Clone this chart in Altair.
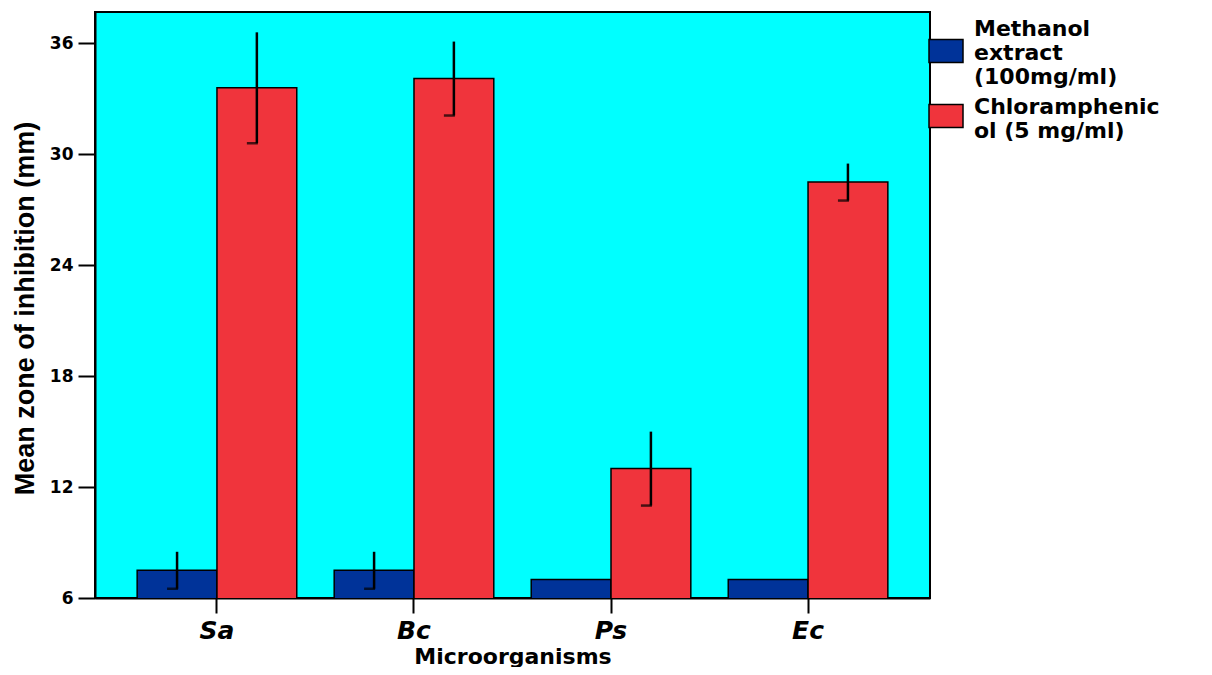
import altair as alt
import pandas as pd

categories = ["Sa", "Bc", "Ps", "Ec"]
series = ["Methanol extract (100mg/ml)", "Chloramphenicol (5 mg/ml)"]
methanol = [7.5, 7.5, 7.0, 7.0]
methanol_err = [1.0, 1.0, 0.0, 0.0]
chlor = [33.6, 34.1, 13.0, 28.5]
chlor_err = [3.0, 2.0, 2.0, 1.0]
y_ticks = [6, 12, 18, 24, 30, 36]
colors = ["#003399", "#F0343C"]
outline = ["black", "black"]
# legend swatches (rectangles; each shifted so it sits beside its wrapped label)
swatches = ["M-1,0.62L1,0.62L1,1.97L-1,1.97Z", "M-1,-0.15L1,-0.15L1,1.2L-1,1.2Z"]

rows = []
for i, c in enumerate(categories):
    rows.append({"cat": c, "series": series[0], "value": methanol[i], "err": methanol_err[i]})
    rows.append({"cat": c, "series": series[1], "value": chlor[i], "err": chlor_err[i]})
df = pd.DataFrame(rows)
df["lo"] = df["value"] - df["err"]
df["hi"] = df["value"] + df["err"]

label_expr = ("datum.label == '" + series[0] + "' ? ['Methanol', 'extract', '(100mg/ml)'] : "
              "['Chloramphenic', 'ol (5 mg/ml)']")

legend = alt.Legend(title=None, orient="none", legendX=833, legendY=-1,
                    padding=0, symbolSize=1156, symbolStrokeColor="black",
                    symbolStrokeWidth=1.5, symbolOpacity=1,
                    labelFont="DejaVu Sans", labelFontSize=22,
                    labelFontWeight="bold", labelColor="black",
                    labelOffset=10, labelExpr=label_expr, labelLimit=400,
                    rowPadding=1)

x_enc = alt.X("cat:N", sort=categories,
              scale=alt.Scale(paddingInner=0.19, paddingOuter=0.214),
              axis=alt.Axis(title="Microorganisms", labelAngle=0,
                            labelFont="DejaVu Sans", labelFontSize=25, labelFontWeight="bold",
                            labelFontStyle="italic", labelColor="black", labelPadding=5,
                            tickSize=15, tickWidth=2, tickColor="black",
                            domainColor="black", domainWidth=2,
                            titleFont="DejaVu Sans", titleFontSize=22, titleFontWeight="bold",
                            titleColor="black", titleY=65, titleBaseline="alphabetic"))
xoff = alt.XOffset("series:N", sort=series, scale=alt.Scale(paddingInner=0, paddingOuter=0))
y_scale = alt.Scale(domain=[6, 37.7], nice=False, zero=False)
color_enc = alt.Color("series:N", sort=series, scale=alt.Scale(domain=series, range=colors),
                      legend=legend)

bars = alt.Chart(df).mark_bar(stroke="black", strokeWidth=1.5, clip=True).encode(
    x=x_enc,
    xOffset=xoff,
    y=alt.Y("value:Q", scale=y_scale,
            axis=alt.Axis(values=y_ticks, grid=False, title="Mean zone of inhibition (mm)",
                          labelFont="DejaVu Sans", labelFontSize=17, labelFontWeight="bold",
                          labelColor="black", labelPadding=5, tickSize=17, tickWidth=2,
                          tickColor="black", domainColor="black", domainWidth=2,
                          titleFont="Liberation Sans", titleFontSize=27, titleFontWeight="bold",
                          titleColor="black", titleX=-62, titleY=296, titleAngle=-90,
                          titleBaseline="alphabetic", titleAlign="center")),
    color=color_enc,
)

# zero-size points carrying the legend swatch shapes and outlines
keys = alt.Chart(df).mark_point(filled=True, size=0, strokeWidth=1.5).encode(
    x=alt.X("cat:N", sort=categories), xOffset=xoff,
    y=alt.Y("value:Q", scale=y_scale),
    color=color_enc,
    shape=alt.Shape("series:N", sort=series, scale=alt.Scale(domain=series, range=swatches),
                    legend=legend),
    stroke=alt.Stroke("series:N", sort=series, scale=alt.Scale(domain=series, range=outline),
                      legend=legend),
)

err_df = df[df["err"] > 0]
rules = alt.Chart(err_df).mark_rule(color="black", strokeWidth=2.5).encode(
    x=alt.X("cat:N", sort=categories), xOffset=xoff,
    y=alt.Y("lo:Q", scale=y_scale), y2="hi:Q")
caps = alt.Chart(err_df).mark_tick(color="black", thickness=2.5, size=11).encode(
    x=alt.X("cat:N", sort=categories),
    xOffset=alt.XOffset("series:N", sort=series,
                        scale=alt.Scale(range=[-4.5, 155.1], paddingInner=0, paddingOuter=0)),
    y=alt.Y("lo:Q", scale=y_scale))

chart = alt.layer(bars, keys, rules, caps).resolve_scale(xOffset="independent").properties(
    width=835, height=586,
    autosize=alt.AutoSizeParams(type="none"),
    padding={"left": 87, "top": 4, "right": 266, "bottom": 69},
).configure_view(fill="#00FFFF", stroke="black", strokeWidth=2)

chart.save("out.html", embed_options={"renderer": "svg", "actions": False})
